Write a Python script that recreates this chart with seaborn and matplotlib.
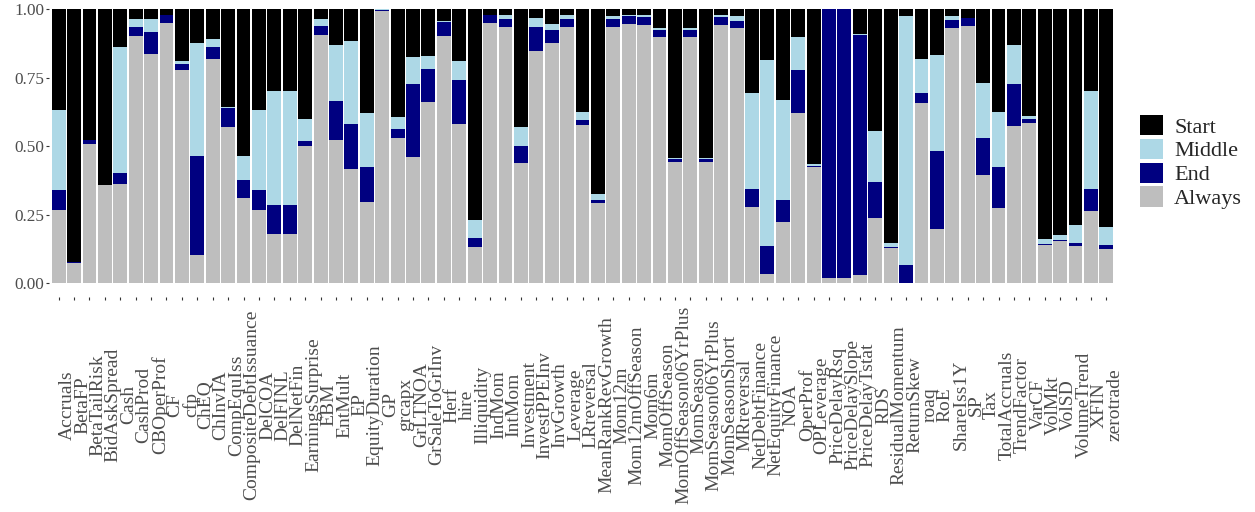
import matplotlib
matplotlib.use("Agg")
import matplotlib.pyplot as plt
from matplotlib.patches import Patch
import seaborn as sns
import pandas as pd
import numpy as np

signals = ["Accruals", "BetaFP", "BetaTailRisk", "BidAskSpread", "Cash", "CashProd",
           "CBOperProf", "CF", "cfp", "ChEQ", "ChInvIA", "CompEquIss",
           "CompositeDebtIssuance", "DelCOA", "DelFINL", "DelNetFin", "EarningsSurprise",
           "EBM", "EntMult", "EP", "EquityDuration", "GP", "grcapx", "GrLTNOA",
           "GrSaleToGrInv", "Herf", "hire", "Illiquidity", "IndMom", "IntMom",
           "Investment", "InvestPPEInv", "InvGrowth", "Leverage", "LRreversal",
           "MeanRankRevGrowth", "Mom12m", "Mom12mOffSeason", "Mom6m", "MomOffSeason",
           "MomOffSeason06YrPlus", "MomSeason", "MomSeason06YrPlus", "MomSeasonShort",
           "MRreversal", "NetDebtFinance", "NetEquityFinance", "NOA", "OperProf",
           "OPLeverage", "PriceDelayRsq", "PriceDelaySlope", "PriceDelayTstat", "RDS",
           "ResidualMomentum", "ReturnSkew", "roaq", "RoE", "ShareIss1Y", "SP", "Tax",
           "TotalAccruals", "TrendFactor", "VarCF", "VolMkt", "VolSD", "VolumeTrend",
           "XFIN", "zerotrade"]

always = [0.267, 0.073, 0.508, 0.358, 0.362, 0.902, 0.836, 0.949, 0.778, 0.103, 0.818, 0.570,
          0.311, 0.267, 0.180, 0.180, 0.501, 0.905, 0.522, 0.417, 0.296, 0.993, 0.530, 0.461,
          0.661, 0.902, 0.581, 0.132, 0.949, 0.934, 0.439, 0.847, 0.876, 0.934, 0.577, 0.293,
          0.934, 0.945, 0.942, 0.898, 0.442, 0.898, 0.442, 0.942, 0.931, 0.278, 0.034, 0.224,
          0.621, 0.424, 0.019, 0.019, 0.030, 0.238, 0.129, 0.002, 0.657, 0.198, 0.931, 0.938,
          0.395, 0.275, 0.574, 0.584, 0.140, 0.154, 0.136, 0.264, 0.125]

end = [0.073, 0.004, 0.014, 0.000, 0.040, 0.032, 0.080, 0.029, 0.022, 0.361, 0.043, 0.069,
       0.066, 0.073, 0.106, 0.106, 0.018, 0.033, 0.143, 0.164, 0.128, 0.004, 0.033, 0.266,
       0.120, 0.051, 0.160, 0.033, 0.029, 0.030, 0.062, 0.087, 0.047, 0.030, 0.018, 0.011,
       0.030, 0.030, 0.029, 0.025, 0.011, 0.025, 0.011, 0.029, 0.025, 0.066, 0.102, 0.080,
       0.157, 0.002, 0.981, 0.981, 0.875, 0.131, 0.003, 0.065, 0.037, 0.284, 0.029, 0.029,
       0.135, 0.149, 0.153, 0.015, 0.003, 0.004, 0.011, 0.080, 0.015]

middle = [0.292, 0.000, 0.000, 0.000, 0.459, 0.030, 0.048, 0.000, 0.010, 0.412, 0.030, 0.004,
          0.087, 0.292, 0.415, 0.415, 0.080, 0.026, 0.204, 0.302, 0.197, 0.003, 0.043, 0.098,
          0.048, 0.003, 0.069, 0.066, 0.000, 0.014, 0.069, 0.033, 0.022, 0.014, 0.030, 0.022,
          0.011, 0.003, 0.007, 0.008, 0.004, 0.008, 0.004, 0.007, 0.018, 0.350, 0.678, 0.364,
          0.120, 0.009, 0.000, 0.000, 0.004, 0.186, 0.015, 0.907, 0.124, 0.350, 0.014, 0.000,
          0.200, 0.201, 0.142, 0.011, 0.019, 0.018, 0.066, 0.357, 0.065]

start = [0.368, 0.923, 0.478, 0.642, 0.139, 0.036, 0.036, 0.022, 0.190, 0.124, 0.109, 0.357,
         0.536, 0.368, 0.299, 0.299, 0.401, 0.036, 0.131, 0.117, 0.379, 0.000, 0.394, 0.175,
         0.171, 0.044, 0.190, 0.769, 0.022, 0.022, 0.430, 0.033, 0.055, 0.022, 0.375, 0.674,
         0.025, 0.022, 0.022, 0.069, 0.543, 0.069, 0.543, 0.022, 0.026, 0.306, 0.186, 0.332,
         0.102, 0.565, 0.000, 0.000, 0.091, 0.445, 0.853, 0.026, 0.182, 0.168, 0.026, 0.033,
         0.270, 0.375, 0.131, 0.390, 0.838, 0.824, 0.787, 0.299, 0.795]

groups = ["Start", "Middle", "End", "Always"]
colors = {"Start": "#000000", "Middle": "#ADD8E6", "End": "#00008B", "Always": "#BEBEBE"}
colors["End"] = "#000080"
y_ticks = [0.00, 0.25, 0.50, 0.75, 1.00]

df = pd.DataFrame({"signal": signals, "Always": always, "End": end,
                   "Middle": middle, "Start": start})
# cumulative tops of the stacked segments (bottom to top: Always, End, Middle, Start)
df["top_Always"] = df["Always"]
df["top_End"] = df["top_Always"] + df["End"]
df["top_Middle"] = df["top_End"] + df["Middle"]
df["top_Start"] = df["top_Middle"] + df["Start"]

sns.set_style("white")
plt.rcParams["font.family"] = ["Liberation Serif", "DejaVu Serif"]

W, H = 1255, 512
fig = plt.figure(figsize=(W / 100, H / 100), dpi=100)
ax = fig.add_axes([49.4 / W, 1 - 297 / H, (1115.6 - 49.4) / W, 297 / H])

for g in groups:  # tallest first, so each lower segment paints over it
    sns.barplot(data=df, x="signal", y="top_" + g, order=signals, color=colors[g],
                saturation=1, width=0.9, errorbar=None, linewidth=0, edgecolor="none", ax=ax)

ax.set_xlim(-0.6, len(signals) - 0.4)
ax.set_ylim(-0.05, 1.033)
ax.set_yticks(y_ticks)
ax.set_yticklabels([f"{v:.2f}" for v in y_ticks])
ax.set_xlabel("")
ax.set_ylabel("")
for s in ax.spines.values():
    s.set_visible(False)

ax.tick_params(axis="y", length=2.2, width=0.8, color="#333333", pad=1.5,
               labelsize=12.4, labelcolor="#4D4D4D", left=True)
ax.tick_params(axis="x", length=2.2, width=0.8, color="#333333", pad=75.5,
               labelsize=14, labelcolor="#4D4D4D", bottom=True)
for lab in ax.get_xticklabels():
    lab.set_rotation(90)
    lab.set_ha("left")
    lab.set_va("center")

handles = [Patch(facecolor=colors[g], edgecolor="none", label=g) for g in groups]
fig.legend(handles=handles, loc="center left", bbox_to_anchor=(1140 / W, 1 - 162 / H),
           frameon=False, fontsize=16, handlelength=1.03, handleheight=1.03,
           handletextpad=0.5, labelspacing=0.05, borderpad=0, borderaxespad=0)

fig.savefig("out.png", dpi=100)
